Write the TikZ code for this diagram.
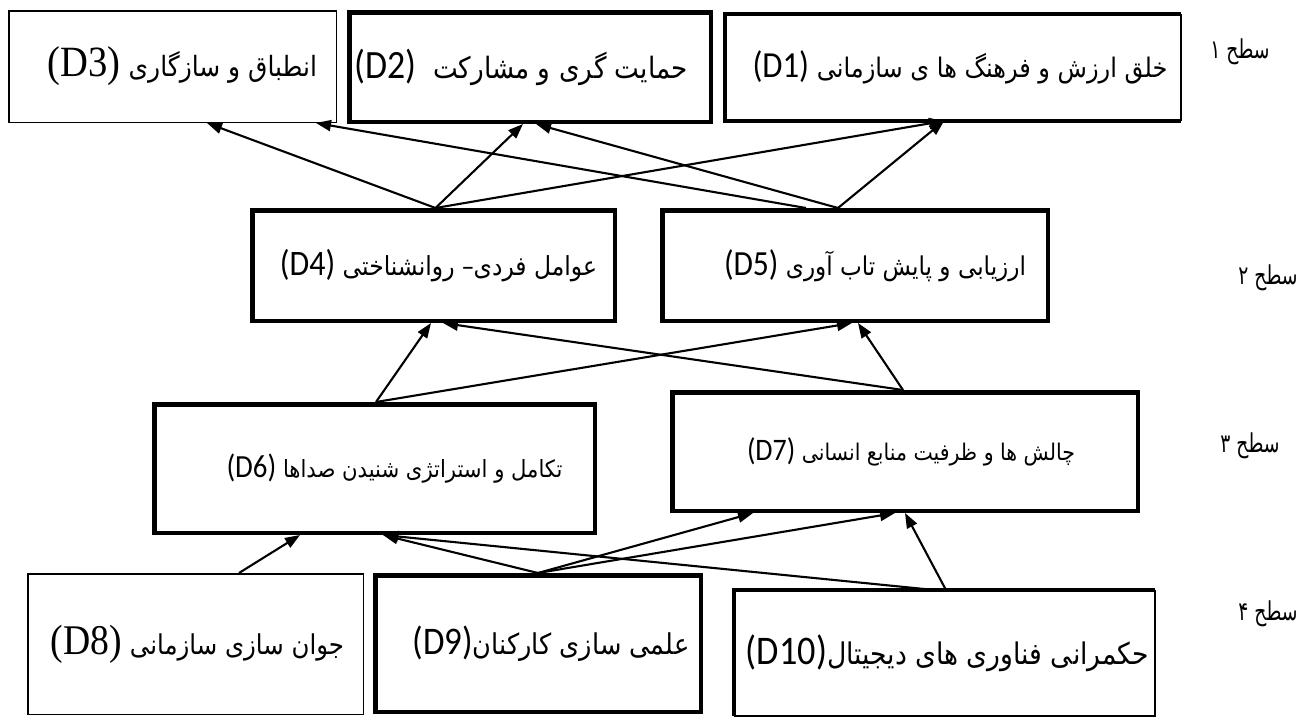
\documentclass[tikz,border=0pt]{standalone}
\usepackage{fontspec}
\usepackage{graphicx}
\usetikzlibrary{arrows.meta,calc}
\TeXXeTstate=1
\newfontfamily\arabicfont[Script=Arabic]{DejaVu Sans}
\newfontfamily\latsans{Carlito}
\newfontfamily\latserif{Liberation Serif}
\newcommand\dsans[1]{{\latsans\fontsize{30}{34}\selectfont\beginL#1\endL}}
\newcommand\dserif[1]{{\latserif\fontsize{34}{38}\selectfont\beginL#1\endL}}
% #1 horizontal shift, #2 vertical raise, #3 width, #4 text
\newcommand\boxtext[4]{\makebox[0pt]{\kern#1\relax\raisebox{#2}{\scalebox{1}[1.12]{\resizebox{#3}{!}{#4}}}\kern-#1\relax}}
\newcommand\lvltext[1]{\scalebox{0.72}[1]{\fontsize{26}{30}\selectfont\beginR #1\endR}}
\begin{document}
\begin{tikzpicture}[x=1pt,y=-1pt,
  thickbox/.style={draw, line width=4.5pt, rectangle, inner sep=0pt},
  thinbox/.style={draw, line width=1.5pt, rectangle, inner sep=0pt},
  plainbox/.style={rectangle, inner sep=0pt},
  lvl/.style={inner sep=0pt},
  conn/.style={line width=2.1pt, -{Triangle[length=15pt,width=11pt]}},
  every node/.style={font=\arabicfont\fontsize{22}{26}\selectfont}]
\fill[white] (0,0) rectangle (1298,721);
\useasboundingbox (0,0) rectangle (1298,721);

% level 1
\node[thinbox, minimum width=327.5pt, minimum height=111.5pt] (D3) at (172.5,66.5)
  {\boxtext{10pt}{4pt}{269pt}{\beginR انطباق و سازگاری \dserif{(D3)}\endR}};
\node[thickbox, minimum width=361.5pt, minimum height=109.5pt] (D2) at (530,67)
  {\boxtext{-9pt}{4pt}{333pt}{\beginR حمایت گری و مشارکت \ \dsans{(D2)}\endR}};
\node[plainbox, minimum width=455.5pt, minimum height=106.5pt] (D1) at (953,67.5)
  {\boxtext{7pt}{4pt}{415pt}{\beginR خلق ارزش و فرهنگ ها ی سازمانی \dsans{(D1)}\endR}};
\draw[line width=4.5pt] (D1.south east) -- (D1.south west) -- (D1.north west) -- (D1.north east);
\draw[line width=2pt] (D1.north east) -- (D1.south east);

% level 2
\node[thickbox, minimum width=362.5pt, minimum height=110.5pt] (D4) at (433.5,265.5)
  {\boxtext{5pt}{2pt}{317pt}{\beginR عوامل فردی– روانشناختی \dsans{(D4)}\endR}};
\node[thickbox, minimum width=385.5pt, minimum height=110.5pt] (D5) at (855,265.5)
  {\boxtext{20pt}{0pt}{302pt}{\beginR ارزیابی و پایش تاب آوری \dsans{(D5)}\endR}};

% level 3
\node[thickbox, minimum width=440.5pt, minimum height=128.5pt] (D6) at (374.5,468.5)
  {\boxtext{20pt}{2pt}{336pt}{\beginR تکامل و استراتژی شنیدن صداها \dsans{(D6)}\endR}};
\node[thickbox, minimum width=465.5pt, minimum height=118.5pt] (D7) at (905,451.5)
  {\boxtext{6pt}{2pt}{328pt}{\beginR چالش ها و ظرفیت منابع انسانی \dsans{(D7)}\endR}};

% level 4
\node[thinbox, minimum width=335.5pt, minimum height=140.5pt] (D8) at (195.5,644)
  {\boxtext{2pt}{0pt}{293pt}{\beginR جوان سازی سازمانی \dserif{(D8)}\endR}};
\node[thickbox, minimum width=325.5pt, minimum height=136.5pt] (D9) at (538,643.5)
  {\boxtext{13pt}{0pt}{277pt}{\beginR علمی سازی کارکنان\dsans{(D9)}\endR}};
\node[plainbox, minimum width=420.5pt, minimum height=125.5pt] (D10) at (944.5,653)
  {\boxtext{3pt}{0pt}{403pt}{\beginR حکمرانی فناوری های دیجیتال\dsans{(D10)}\endR}};
\draw[line width=4.5pt] (D10.south west) -- (D10.north west) -- (D10.north east);
\draw[line width=2pt] (D10.north east) -- (D10.south east) -- (D10.south west);

% level labels
\node[lvl] (L1) at (1240,52) {\lvltext{سطح ۱}};
\node[lvl] (L2) at (1268,278) {\lvltext{سطح ۲}};
\node[lvl] (L3) at (1250,446) {\lvltext{سطح ۳}};
\node[lvl] (L4) at (1268,614) {\lvltext{سطح ۴}};

% connection points
\coordinate (h3a) at ([xshift=34.5pt]D3.south);
\coordinate (h3b) at ([xshift=143.5pt]D3.south);
\coordinate (h2a) at ([xshift=-7pt]D2.south);
\coordinate (h2b) at ([xshift=6pt]D2.south);
\coordinate (h1) at ([xshift=-9pt]D1.south);
\coordinate (t4) at ([xshift=2pt]D4.north);
\coordinate (t5a) at ([xshift=-49pt]D5.north);
\coordinate (t5b) at ([xshift=-17pt]D5.north);
\coordinate (h4a) at ([xshift=-2.5pt]D4.south);
\coordinate (h4b) at ([xshift=9.5pt]D4.south);
\coordinate (h5a) at ([xshift=-3pt]D5.south);
\coordinate (h5b) at ([xshift=3pt]D5.south);
\coordinate (t6) at ([xshift=1.5pt]D6.north);
\coordinate (t7) at ([xshift=-2pt]D7.north);
\coordinate (h6a) at ([xshift=-74.5pt]D6.south);
\coordinate (h6b) at ([xshift=8.5pt]D6.south);
\coordinate (h7a) at ([xshift=-152pt]D7.south);
\coordinate (h7b) at ([xshift=-10pt]D7.south);
\coordinate (h7c) at ([xshift=0pt]D7.south);
\coordinate (t8) at ([xshift=43.5pt]D8.north);
\coordinate (t9) at ([xshift=0pt]D9.north);
\coordinate (t10a) at ([xshift=-9.5pt]D10.north);
\coordinate (t10b) at ([xshift=1.5pt]D10.north);

% level 2 -> level 1
\draw[conn] (t4) -- (h3a);
\draw[conn] (t4) -- (h2a);
\draw[conn] (t4) -- (h1);
\draw[conn] (t5a) -- (h3b);
\draw[conn] (t5b) -- (h2b);
\draw[conn] (t5b) -- (h1);
% level 3 -> level 2
\draw[conn] (t6) -- (h4a);
\draw[conn] (t6) -- (h5a);
\draw[conn] (t7) -- (h4b);
\draw[conn] (t7) -- (h5b);
% level 4 -> level 3
\draw[conn] (t8) -- (h6a);
\draw[conn] (t9) -- (h6b);
\draw[conn] (t9) -- (h7a);
\draw[conn] (t9) -- (h7b);
\draw[conn] (t10b) -- (h7c);
\draw[conn] (t10a) -- (h6b);
\end{tikzpicture}
\end{document}
